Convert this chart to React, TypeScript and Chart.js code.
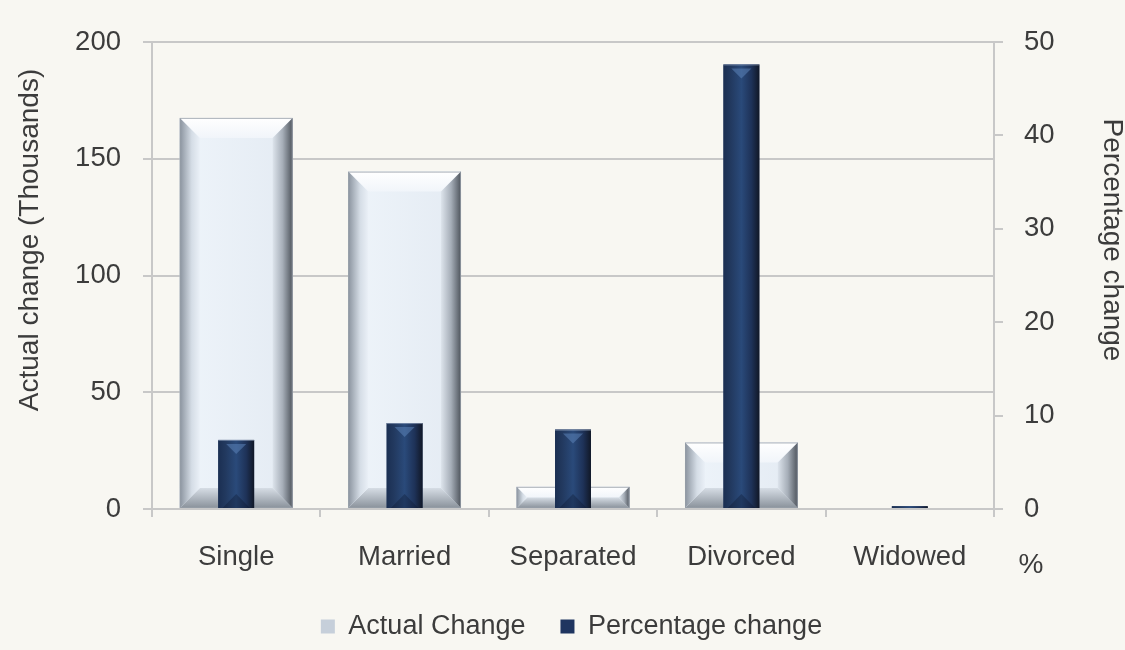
import React, { useEffect, useRef } from "react";
import { Chart, registerables } from "chart.js";

Chart.register(...registerables);

const categories = ["Single", "Married", "Separated", "Divorced", "Widowed"];
const actualChange = [167.5, 144.5, 9.5, 28.5, 0];
const percentageChange = [7.4, 9.2, 8.5, 47.6, 0.3];
const seriesNames = ["Actual Change", "Percentage change"];
const leftAxisTitle = "Actual change (Thousands)";
const rightAxisTitle = "Percentage change";
const rightUnitLabel = "%";

const FONT = "'Liberation Sans', Arial, sans-serif";
const TEXT = "#3c3c3c";
const GRID = "#c8c8c8";

function poly(ctx: CanvasRenderingContext2D, pts: number[][], fill: any) {
  ctx.beginPath();
  ctx.moveTo(pts[0][0], pts[0][1]);
  for (let i = 1; i < pts.length; i++) ctx.lineTo(pts[i][0], pts[i][1]);
  ctx.closePath();
  ctx.fillStyle = fill;
  ctx.fill();
}

function drawLight(ctx: CanvasRenderingContext2D, l: number, r: number, t: number, b: number) {
  const h = b - t;
  const bv = Math.min(20, h / 2);
  const face = ctx.createLinearGradient(l, 0, r, 0);
  face.addColorStop(0, "#eef4fa");
  face.addColorStop(1, "#e4ebf3");
  ctx.fillStyle = face;
  ctx.fillRect(l, t, r - l, h);
  const top = ctx.createLinearGradient(0, t, 0, t + bv);
  top.addColorStop(0, "#ffffff");
  top.addColorStop(1, "#f1f5fa");
  poly(ctx, [[l, t], [r, t], [r - bv, t + bv], [l + bv, t + bv]], top);
  const bot = ctx.createLinearGradient(0, b - bv, 0, b);
  bot.addColorStop(0, "#d6dde5");
  bot.addColorStop(1, "#8a929b");
  poly(ctx, [[l, b], [r, b], [r - bv, b - bv], [l + bv, b - bv]], bot);
  const left = ctx.createLinearGradient(l, 0, l + bv, 0);
  left.addColorStop(0, "#8a939e");
  left.addColorStop(0.6, "#d5dde6");
  left.addColorStop(1, "#eaf0f7");
  poly(ctx, [[l, t], [l + bv, t + bv], [l + bv, b - bv], [l, b]], left);
  const right = ctx.createLinearGradient(r, 0, r - bv, 0);
  right.addColorStop(0, "#4e545c");
  right.addColorStop(0.5, "#a6aeb8");
  right.addColorStop(1, "#dde4ec");
  poly(ctx, [[r, t], [r - bv, t + bv], [r - bv, b - bv], [r, b]], right);
  ctx.strokeStyle = "rgba(150,158,168,0.8)";
  ctx.lineWidth = 1;
  ctx.strokeRect(l + 0.5, t + 0.5, r - l - 1, h - 1);
}

function drawDark(ctx: CanvasRenderingContext2D, l: number, r: number, t: number, b: number) {
  const h = b - t;
  const w = r - l;
  const x = (l + r) / 2;
  const g = ctx.createLinearGradient(l, 0, r, 0);
  g.addColorStop(0, "#1b2f52");
  g.addColorStop(0.2, "#22395f");
  g.addColorStop(0.5, "#2a4a7a");
  g.addColorStop(0.78, "#1e3258");
  g.addColorStop(1, "#111827");
  ctx.fillStyle = g;
  ctx.fillRect(l, t, w, h);
  if (h > 8) {
    const cv = Math.min(14, h / 3);
    poly(ctx, [[l + w * 0.22, t + 4], [r - w * 0.22, t + 4], [x, t + cv]], "rgba(95,135,190,0.5)");
    poly(ctx, [[l + w * 0.12, b], [r - w * 0.12, b], [x, b - cv]], "rgba(10,18,35,0.3)");
    ctx.strokeStyle = "rgba(160,175,200,0.6)";
    ctx.lineWidth = 1;
    ctx.beginPath();
    ctx.moveTo(l, t + 0.5);
    ctx.lineTo(r, t + 0.5);
    ctx.stroke();
  }
}

const bevelPlugin = {
  id: "bevelBars",
  afterDatasetDraw(chart: any, args: any) {
    const ctx: CanvasRenderingContext2D = chart.ctx;
    ctx.save();
    args.meta.data.forEach((el: any) => {
      const p = el.getProps(["x", "y", "base", "width"], true);
      const l = p.x - p.width / 2;
      const r = p.x + p.width / 2;
      const t = Math.min(p.y, p.base);
      const b = Math.max(p.y, p.base);
      if (b - t < 0.5) return;
      if (args.index === 0) drawLight(ctx, l, r, t, b);
      else drawDark(ctx, l, r, t, b);
    });
    ctx.restore();
  },
};

const axisTextPlugin = {
  id: "axisTexts",
  afterDraw(chart: any) {
    const ctx: CanvasRenderingContext2D = chart.ctx;
    const yr = chart.scales.y1;
    ctx.save();
    ctx.font = `28px ${FONT}`;
    ctx.fillStyle = TEXT;
    ctx.textAlign = "center";
    ctx.textBaseline = "middle";
    const titleY = 240;
    ctx.save();
    ctx.translate(30, titleY);
    ctx.rotate(-Math.PI / 2);
    ctx.fillText(leftAxisTitle, 0, 0);
    ctx.restore();
    ctx.save();
    ctx.translate(1112, titleY);
    ctx.rotate(Math.PI / 2);
    ctx.fillText(rightAxisTitle, 0, 0);
    ctx.restore();
    ctx.fillText(rightUnitLabel, yr.left + 37, 565);
    ctx.restore();
  },
};

export default function App() {
  const ref = useRef<HTMLCanvasElement | null>(null);
  useEffect(() => {
    if (!ref.current) return;
    Chart.defaults.font.family = FONT;
    const chart = new Chart(ref.current, {
      type: "bar",
      data: {
        labels: categories,
        datasets: [
          {
            label: seriesNames[0],
            data: actualChange,
            yAxisID: "y",
            backgroundColor: "#c6cfda",
            borderWidth: 0,
            grouped: false,
            order: 2,
            categoryPercentage: 1,
            barPercentage: 0.67,
          },
          {
            label: seriesNames[1],
            data: percentageChange,
            yAxisID: "y1",
            backgroundColor: "#1f3560",
            borderWidth: 0,
            grouped: false,
            order: 1,
            categoryPercentage: 1,
            barPercentage: 0.213,
          },
        ],
      },
      options: {
        animation: false,
        responsive: true,
        maintainAspectRatio: false,
        layout: { padding: { top: 42, left: 18, right: 0, bottom: 0 } },
        plugins: {
          tooltip: { enabled: false },
          legend: {
            position: "bottom",
            labels: {
              boxWidth: 14,
              boxHeight: 14,
              padding: 35,
              color: TEXT,
              font: { size: 27, family: FONT },
              sort: (a: any, b: any) => a.datasetIndex - b.datasetIndex,
            },
          },
        },
        scales: {
          x: {
            grid: { display: true, drawOnChartArea: false, tickLength: 8, color: GRID, lineWidth: 2, offset: true },
            border: { display: true, color: GRID, width: 2 },
            ticks: { color: TEXT, font: { size: 27.5 }, padding: 24, maxRotation: 0 },
            afterFit: (s: any) => { s.height = 69; },
          },
          y: {
            position: "left",
            min: 0,
            max: 200,
            ticks: { stepSize: 50, color: TEXT, font: { size: 27.5 }, padding: 22 },
            grid: { color: GRID, lineWidth: 2, tickLength: 9 },
            border: { display: true, color: GRID, width: 2 },
            afterFit: (s: any) => { s.width = 134; },
          },
          y1: {
            position: "right",
            min: 0,
            max: 50,
            ticks: { stepSize: 10, color: TEXT, font: { size: 27.5 }, padding: 21 },
            grid: { drawOnChartArea: false, color: GRID, lineWidth: 2, tickLength: 9 },
            border: { display: true, color: GRID, width: 2 },
            afterFit: (s: any) => { s.width = 131; },
          },
        },
      },
      plugins: [bevelPlugin, axisTextPlugin],
    });
    return () => chart.destroy();
  }, []);
  return (
    <div style={{ position: "fixed", left: 0, top: 0, width: 1125, height: 650, background: "#f8f7f2" }}>
      <canvas ref={ref} />
    </div>
  );
}
